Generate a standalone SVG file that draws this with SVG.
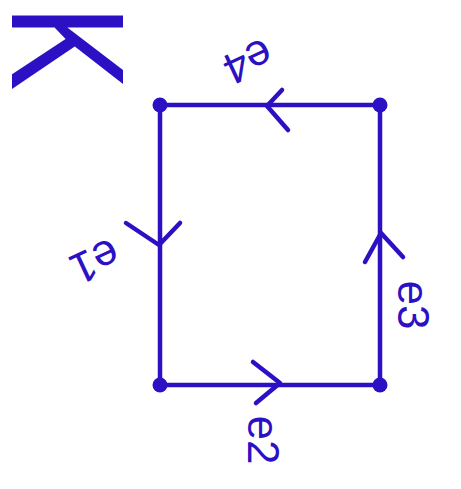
<svg xmlns="http://www.w3.org/2000/svg" width="461" height="489" viewBox="0 0 461 489">
<style>
.ln{stroke:#2c10c4;stroke-width:4.5;fill:none;stroke-linecap:round;stroke-linejoin:round}
.dot{fill:#2c10c4}
.lbl{font-family:"Liberation Sans",Arial,sans-serif;font-size:44px;fill:#2c10c4;text-anchor:middle;dominant-baseline:central}
.big{font-family:"Liberation Sans",Arial,sans-serif;font-size:100px;fill:#2c10c4}
</style>
<rect width="461" height="489" fill="#ffffff"/>
<g id="title">
<text class="big" transform="translate(12,5) rotate(90) scale(1.28,1.62)">K</text>
</g>
<g id="connectors">
<g id="edge-e4"><line class="ln" x1="380" y1="105" x2="160" y2="105"/><polyline class="ln" points="282,90 267,106 288,130"/></g>
<g id="edge-e1"><line class="ln" x1="160" y1="105" x2="160" y2="385"/><polyline class="ln" points="126,223 159,245 180,223"/></g>
<g id="edge-e2"><line class="ln" x1="160" y1="385" x2="380" y2="385"/><polyline class="ln" points="253,362 280,383 256,403"/></g>
<g id="edge-e3"><line class="ln" x1="380" y1="385" x2="380" y2="105"/><polyline class="ln" points="365,262 381,233 403,257"/></g>
</g>
<g id="v1"><circle class="dot" cx="160" cy="105" r="7.5"/></g>
<g id="v2"><circle class="dot" cx="380" cy="105" r="7.5"/></g>
<g id="v3"><circle class="dot" cx="160" cy="385" r="7.5"/></g>
<g id="v4"><circle class="dot" cx="380" cy="385" r="7.5"/></g>
<g id="label-e4"><text class="lbl" transform="translate(248,62) rotate(155)">e4</text></g>
<g id="label-e1"><text class="lbl" transform="translate(95,262) rotate(155)">e1</text></g>
<g id="label-e3"><text class="lbl" transform="translate(413,305) rotate(90)">e3</text></g>
<g id="label-e2"><text class="lbl" transform="translate(263,440) rotate(90)">e2</text></g>
</svg>
